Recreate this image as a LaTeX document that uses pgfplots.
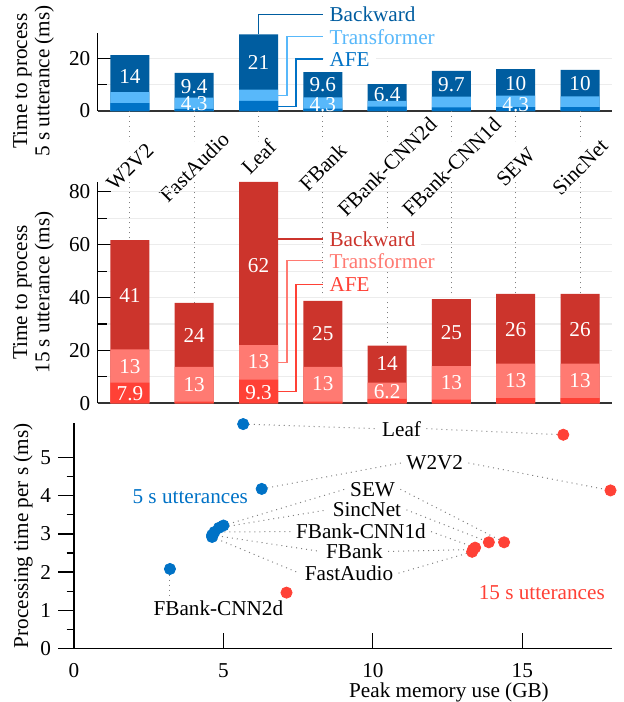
\documentclass[border=0pt]{standalone}
\usepackage{fontspec}
\setmainfont{Liberation Serif}
\usepackage{pgfplots}
\usepackage{pgfplotstable}
\pgfplotsset{compat=1.18}

\definecolor{bBack}{HTML}{005DA0}
\definecolor{bTrans}{HTML}{58B8FA}
\definecolor{bAFE}{HTML}{0072C6}
\definecolor{rBack}{HTML}{CC342C}
\definecolor{rTrans}{HTML}{FF7A72}
\definecolor{rAFE}{HTML}{FF4136}
\definecolor{sBlue}{HTML}{0072C6}
\definecolor{sRed}{HTML}{FF4136}

% segment values (ms): AFE, Transformer, Backward
\pgfplotstableread{
x afe trans back
0 3.0 4.2 14.0
1 0.8 4.3 9.4
2 3.8 4.3 21.0
3 0.9 4.3 9.6
4 1.7 2.1 6.4
5 1.4 4.1 9.7
6 1.5 4.3 10.1
7 1.5 4.1 10.0
}\shortdata

\pgfplotstableread{
x afe trans back
0 7.8 12.6 41.3
1 0.6 13.2 24.2
2 9.0 13.0 61.7
3 0.6 13.2 24.9
4 1.7 6.1 14.0
5 1.4 12.7 25.3
6 2.0 13.0 26.4
7 2.0 13.0 26.4
}\longdata

\pgfplotstableread{
x y lab
0 13.0 14
1 9.2 9.4
1 2.7 4.3
2 18.4 21
3 10.2 9.6
3 2.4 4.3
4 6.4 6.4
5 10.1 9.7
6 10.4 10
6 2.6 4.3
7 10.4 10
}\shortlabels

\pgfplotstableread{
x y lab
0 40.6 41
0 13.8 13
0 3.5 7.9
1 25.6 24
1 6.9 13
2 52.1 62
2 15.6 13
2 4.1 9.3
3 26.3 25
3 7.3 13
4 15.1 14
4 4.3 6.2
5 26.9 25
5 7.7 13
6 27.7 26
6 8.7 13
7 27.7 26
7 8.7 13
}\longlabels

\tikzset{
  lead/.style={line width=0.7pt},
  leadtext/.style={anchor=west, fill=white, inner xsep=3pt, inner ysep=0.5pt},
  conn/.style={gray, line width=0.5pt, dash pattern=on 0.5pt off 2pt},
}

\pgfplotsset{
  barchart/.style={
    scale only axis, width=257.2pt, xmin=-0.5, xmax=7.5, ymin=0,
    anchor=south west,
    axis lines=left, axis line style={-},
    x axis line style={-, line width=0.9pt, black!80},
    y axis line style={-, line width=0.6pt},
    tick align=inside, major tick length=6.5pt, minor tick length=4.5pt,
    tick style={black, line width=0.6pt},
    major x tick style={draw=none},
    minor y tick num=1,
    ymajorgrids, yminorgrids,
    major y grid style={gray!15, line width=0.6pt},
    minor y grid style={gray!15, line width=0.6pt},
    /pgf/number format/assume math mode=true,
    ylabel style={align=center, font=\fontsize{10.6}{11.2}\selectfont, anchor=center},
    clip=false,
  },
  segbar/.style={ybar, bar width=19.5pt, bar shift=0pt, draw=none, fill=#1},
  seglabel/.style={scatter, only marks, mark=text, text mark={},
    point meta=explicit symbolic,
    scatter/@pre marker code/.code={\node[white, inner sep=0pt] {\pgfplotspointmeta};},
    scatter/@post marker code/.code={}},
}

\begin{document}
\fontsize{10.6}{12}\selectfont
\begin{tikzpicture}
\useasboundingbox (0,0) rectangle (312pt,-351pt);

% ---- 5 s utterances ----
\begin{axis}[barchart, at={(48.9pt,-55.5pt)}, height=38.85pt,
  ymax=29.5, ytick={0,20},
  ylabel={Time to process\\5 s utterance (ms)},
  ylabel style={at={(axis description cs:-0.1251,0.386)}},
  xtick={0,1,3,4,5,6,7},
  xticklabels={W2V2,FastAudio,FBank,FBank-CNN2d,FBank-CNN1d,SEW,SincNet},
  xticklabel style={yshift=-28pt, rotate=45, anchor=center},
  extra x ticks={2}, extra x tick labels={Leaf},
  extra x tick style={major x tick style={draw=none},
    xticklabel style={rotate=-45, yshift=5pt, rotate=45}}]
\addplot[segbar=bBack] table[x=x, y expr=\thisrow{afe}+\thisrow{trans}+\thisrow{back}] {\shortdata};
\addplot[segbar=bTrans] table[x=x, y expr=\thisrow{afe}+\thisrow{trans}] {\shortdata};
\addplot[segbar=bAFE] table[x=x, y=afe] {\shortdata};
\addplot[seglabel] table[x=x, y=y, meta=lab] {\shortlabels};
\pgfplotsinvokeforeach{0,...,7}{
  \draw[conn] (axis cs:#1,0) -- ++(0pt,-15pt);
}
\draw[lead, bBack] (axis cs:2,29.1) |- (axis cs:3,36.6)
  node[leadtext, text=bBack] {Backward};
\draw[lead, bTrans] (axis cs:2.303,5.9) -| (axis cs:2.44,28.2) -- (axis cs:3,28.2)
  node[leadtext, text=bTrans] {Transformer};
\draw[lead, bAFE] (axis cs:2.303,1.6) -| (axis cs:2.58,19.7) -- (axis cs:3,19.7)
  node[leadtext, text=bAFE] {AFE};
\end{axis}

% ---- 15 s utterances ----
\begin{axis}[barchart, at={(48.9pt,-201.65pt)}, height=110.65pt,
  ymax=83.7, ytick={0,20,...,80},
  ylabel={Time to process\\15 s utterance (ms)},
  ylabel style={at={(axis description cs:-0.1251,0.5)}},
  xtick={0,...,7}, xticklabels={,,,,,,,},
  xmajorgrids, major x grid style={gray, line width=0.5pt, dash pattern=on 0.5pt off 2pt}]
\addplot[segbar=rBack] table[x=x, y expr=\thisrow{afe}+\thisrow{trans}+\thisrow{back}] {\longdata};
\addplot[segbar=rTrans] table[x=x, y expr=\thisrow{afe}+\thisrow{trans}] {\longdata};
\addplot[segbar=rAFE] table[x=x, y=afe] {\longdata};
\addplot[seglabel] table[x=x, y=y, meta=lab] {\longlabels};
\draw[lead, rBack] (axis cs:2.303,62.1) -- (axis cs:3,62.1)
  node[leadtext, text=rBack] {Backward};
\draw[lead, rTrans] (axis cs:2.303,15.5) -| (axis cs:2.44,53.9) -- (axis cs:3,53.9)
  node[leadtext, text=rTrans] {Transformer};
\draw[lead, rAFE] (axis cs:2.303,4.4) -| (axis cs:2.58,45.0) -- (axis cs:3,45.0)
  node[leadtext, text=rAFE] {AFE};
\end{axis}

% ---- memory vs time ----
\begin{axis}[scale only axis, at={(37pt,-324.15pt)}, anchor=south west,
  width=269pt, height=112.5pt,
  xmin=0, xmax=18, ymin=0, ymax=5.9,
  axis lines=left, axis line style={-, line width=0.6pt},
  xtick={0,5,10,15}, ytick={0,...,5}, minor y tick num=1,
  xtick align=inside, ytick align=outside,
  major tick length=7.8pt, minor tick length=3.7pt,
  tick style={black, line width=0.6pt},
  /pgf/number format/assume math mode=true,
  xticklabel style={yshift=-4pt},
  xlabel={Peak memory use (GB)},
  xlabel style={at={(axis description cs:0.697,0)}, anchor=north, yshift=-13.5pt},
  ylabel={Processing time per s (ms)},
  ylabel style={at={(axis description cs:-0.0948,0.5)}, anchor=center},
  clip=false]
\node[inner sep=2.5pt] (leaf) at (axis cs:10.96,5.76) {Leaf};
\node[inner sep=2.5pt] (w2v2) at (axis cs:12.07,4.86) {W2V2};
\node[inner sep=2.5pt] (sew) at (axis cs:9.99,4.17) {SEW};
\node[inner sep=2.5pt] (sinc) at (axis cs:9.8,3.63) {SincNet};
\node[inner sep=2.5pt] (c1d) at (axis cs:9.6,3.06) {FBank-CNN1d};
\node[inner sep=2.5pt] (fb) at (axis cs:9.38,2.54) {FBank};
\node[inner sep=2.5pt] (fa) at (axis cs:9.2,1.97) {FastAudio};
\node[inner sep=2.5pt] (c2d) at (axis cs:4.83,1.06) {FBank-CNN2d};
\node[text=sBlue] at (axis cs:3.89,3.98) {5 s utterances};
\node[text=sRed] at (axis cs:15.65,1.45) {15 s utterances};

\draw[conn, shorten <=2.8pt] (axis cs:5.66,5.88) -- (leaf.west);
\draw[conn, shorten >=2.8pt] (leaf.east) -- (axis cs:16.37,5.6);
\draw[conn, shorten <=2.8pt] (axis cs:6.28,4.18) -- (w2v2.west);
\draw[conn, shorten >=2.8pt] (w2v2.east) -- (axis cs:17.95,4.14);
\draw[conn] (axis cs:5.0,3.22) -- (sew.west);
\draw[conn, shorten >=2.8pt] (sew.east) -- (axis cs:14.39,2.78);
\draw[conn] (axis cs:4.85,3.16) -- (sinc.west);
\draw[conn, shorten >=2.8pt] (sinc.east) -- (axis cs:13.88,2.78);
\draw[conn] (axis cs:4.7,3.05) -- (c1d.west);
\draw[conn, shorten >=2.8pt] (c1d.east) -- (axis cs:13.42,2.64);
\draw[conn] (axis cs:4.62,2.97) -- (fb.west);
\draw[conn, shorten >=2.8pt] (fb.east) -- (axis cs:13.35,2.59);
\draw[conn] (axis cs:4.62,2.92) -- (fa.west);
\draw[conn, shorten >=2.8pt] (fa.east) -- (axis cs:13.32,2.53);
\draw[conn, shorten <=2.8pt] (axis cs:3.21,2.08) -- (axis cs:3.21,1.4);

% 5 s points: W2V2, FastAudio, Leaf, FBank, CNN2d, CNN1d, SEW, SincNet
\addplot[color=sBlue, only marks, mark=*, mark size=2.8pt, mark options={draw=none, fill=sBlue}] table {
x y
6.28 4.18
4.62 2.92
5.66 5.88
4.62 2.97
3.21 2.08
4.70 3.05
5.00 3.22
4.85 3.16
};
% 15 s points
\addplot[color=sRed, only marks, mark=*, mark size=2.8pt, mark options={draw=none, fill=sRed}] table {
x y
17.95 4.14
13.32 2.53
16.37 5.60
13.35 2.59
7.11 1.46
13.42 2.64
14.39 2.78
13.88 2.78
};
\end{axis}
\end{tikzpicture}
\end{document}
